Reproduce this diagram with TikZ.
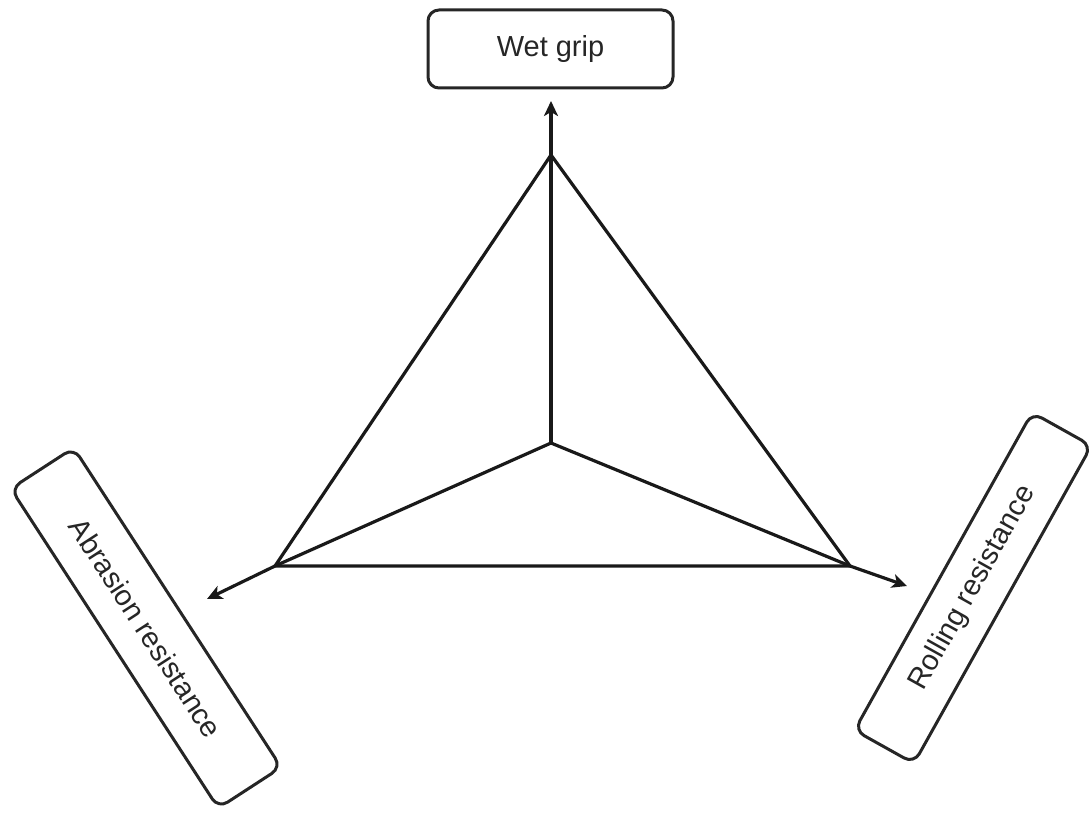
\documentclass[tikz,border=0pt]{standalone}
\usepackage{fontspec}
\setmainfont{Liberation Sans}
\usetikzlibrary{arrows.meta}
\begin{document}
\begin{tikzpicture}[x=1pt,y=-1pt,
  lbl/.style={draw=black!85, line width=3pt, rounded corners=11pt, inner sep=0pt,
    font=\fontsize{29}{34}\selectfont, text=black!85},
  edge/.style={draw=black!90, line width=3.2pt, line join=round},
  arr/.style={edge, -{Stealth[length=15pt,width=14pt,inset=4pt]}}]
\useasboundingbox (0,0) rectangle (1090,813);
% label boxes
\node[lbl, minimum width=245pt, minimum height=78pt] (wet) at (550.5,49) {Wet grip};
\node[lbl, minimum width=381pt, minimum height=75pt, rotate=-57] (abr) at (146,628) {Abrasion resistance};
\node[lbl, minimum width=364pt, minimum height=68pt, rotate=60.8] (rol) at (973,588) {Rolling resistance};
% points
\coordinate (T) at (551,155);
\coordinate (C) at (551,443);
\coordinate (L) at (275,566);
\coordinate (R) at (850,566);
\coordinate (tT) at (551,101);
\coordinate (tL) at (207,599);
\coordinate (tR) at (907,586);
% triangle and spokes
\draw[edge] (T) -- (L) -- (R) -- cycle;
\draw[edge] (C) -- (T);
\draw[edge] (C) -- (L);
\draw[edge] (C) -- (R);
% arrows
\draw[arr] (T) -- (tT);
\draw[arr] (L) -- (tL);
\draw[arr] (R) -- (tR);
\end{tikzpicture}
\end{document}
